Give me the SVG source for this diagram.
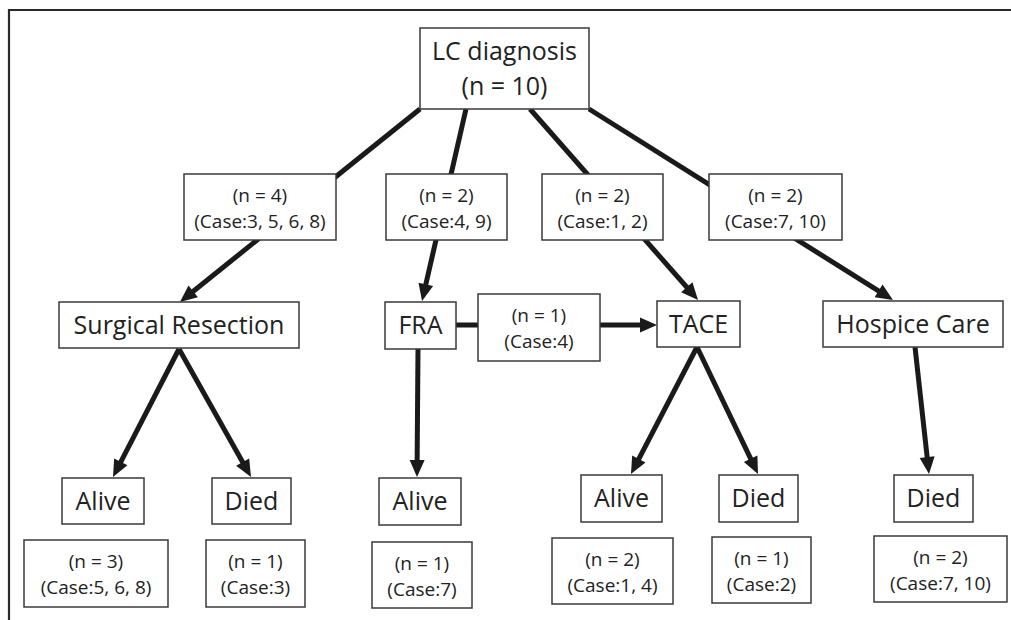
<svg xmlns="http://www.w3.org/2000/svg" width="1011" height="620" viewBox="0 0 1011 620">
<style>
.box{fill:#fff;stroke:#3a3a3a;stroke-width:1.5}
.big{font-family:"Open Sans","Noto Sans",sans-serif;font-size:25px;fill:#222;text-anchor:middle}
.sm{font-family:"Open Sans","Noto Sans",sans-serif;font-size:19px;fill:#222;text-anchor:middle}
.ar{stroke:#1a1a1a;stroke-width:5;fill:none;marker-end:url(#ah)}
</style>
<defs>
<marker id="ah" markerUnits="userSpaceOnUse" markerWidth="17" markerHeight="15" refX="5" refY="7.5" orient="auto" overflow="visible">
<path d="M0,0 L17,7.5 L0,15 z" fill="#1a1a1a"/>
</marker>
</defs>
<rect width="1011" height="620" fill="#fff"/>
<path d="M9,620 V10 H1011" fill="none" stroke="#2a2a2a" stroke-width="2.2"/>
<g id="connectors">
<line class="ar" x1="420" y1="109" x2="189.3" y2="294.5"/>
<line class="ar" x1="466" y1="109" x2="424.7" y2="289.3"/>
<line class="ar" x1="530" y1="109" x2="690.1" y2="291"/>
<line class="ar" x1="589" y1="109" x2="882.8" y2="293.6"/>
<line class="ar" x1="456" y1="325" x2="645" y2="325"/>
<line class="ar" x1="179" y1="349" x2="118.5" y2="466.3"/>
<line class="ar" x1="179" y1="349" x2="245.1" y2="466.5"/>
<line class="ar" x1="418" y1="349" x2="417.1" y2="465"/>
<line class="ar" x1="697" y1="347" x2="636.5" y2="463.4"/>
<line class="ar" x1="697" y1="347" x2="752.8" y2="463.2"/>
<line class="ar" x1="915" y1="347" x2="927.7" y2="462.1"/>
</g>
<g id="lc"><rect class="box" x="420" y="28" width="169" height="81"/><text class="big" x="504.5" y="60">LC diagnosis</text><text class="big" x="504.5" y="95">(n = 10)</text></g>
<g id="g1"><rect class="box" x="184" y="174" width="152" height="66"/><text class="sm" x="260" y="202">(n = 4)</text><text class="sm" x="260" y="228">(Case:3, 5, 6, 8)</text></g>
<g id="g2"><rect class="box" x="386" y="174" width="121" height="66"/><text class="sm" x="446.5" y="202">(n = 2)</text><text class="sm" x="446.5" y="228">(Case:4, 9)</text></g>
<g id="g3"><rect class="box" x="542" y="174" width="121" height="66"/><text class="sm" x="602.5" y="202">(n = 2)</text><text class="sm" x="602.5" y="228">(Case:1, 2)</text></g>
<g id="g4"><rect class="box" x="709" y="174" width="133" height="66"/><text class="sm" x="775.5" y="202">(n = 2)</text><text class="sm" x="775.5" y="228">(Case:7, 10)</text></g>
<g id="surg"><rect class="box" x="59" y="302" width="240" height="46"/><text class="big" x="179" y="334">Surgical Resection</text></g>
<g id="fra"><rect class="box" x="385" y="302" width="71" height="47"/><text class="big" x="420.5" y="334">FRA</text></g>
<g id="mid"><rect class="box" x="478" y="294" width="122" height="67"/><text class="sm" x="539" y="322">(n = 1)</text><text class="sm" x="539" y="348">(Case:4)</text></g>
<g id="tace"><rect class="box" x="657" y="301" width="83" height="46"/><text class="big" x="698.5" y="333">TACE</text></g>
<g id="hosp"><rect class="box" x="823" y="301" width="180" height="46"/><text class="big" x="913" y="333">Hospice Care</text></g>
<g id="a1"><rect class="box" x="62" y="478" width="82" height="46"/><text class="big" x="103" y="510">Alive</text></g>
<g id="d1"><rect class="box" x="212" y="478" width="79" height="46"/><text class="big" x="251.5" y="510">Died</text></g>
<g id="a2"><rect class="box" x="379" y="478" width="82" height="47"/><text class="big" x="420" y="510">Alive</text></g>
<g id="a3"><rect class="box" x="581" y="475" width="81" height="47"/><text class="big" x="621.5" y="507">Alive</text></g>
<g id="d3"><rect class="box" x="719" y="475" width="79" height="47"/><text class="big" x="758.5" y="507">Died</text></g>
<g id="d4"><rect class="box" x="894" y="475" width="79" height="47"/><text class="big" x="933.5" y="507">Died</text></g>
<g id="c1"><rect class="box" x="24" y="540" width="144" height="67"/><text class="sm" x="96" y="568">(n = 3)</text><text class="sm" x="96" y="594">(Case:5, 6, 8)</text></g>
<g id="c2"><rect class="box" x="206" y="540" width="99" height="67"/><text class="sm" x="255.5" y="568">(n = 1)</text><text class="sm" x="255.5" y="594">(Case:3)</text></g>
<g id="c3"><rect class="box" x="372" y="542" width="100" height="66"/><text class="sm" x="422" y="570">(n = 1)</text><text class="sm" x="422" y="596">(Case:7)</text></g>
<g id="c4"><rect class="box" x="552" y="538" width="121" height="66"/><text class="sm" x="612.5" y="566">(n = 2)</text><text class="sm" x="612.5" y="592">(Case:1, 4)</text></g>
<g id="c5"><rect class="box" x="712" y="537" width="99" height="66"/><text class="sm" x="761.5" y="565">(n = 1)</text><text class="sm" x="761.5" y="591">(Case:2)</text></g>
<g id="c6"><rect class="box" x="874" y="536" width="133" height="66"/><text class="sm" x="940.5" y="564">(n = 2)</text><text class="sm" x="940.5" y="590">(Case:7, 10)</text></g>
</svg>
